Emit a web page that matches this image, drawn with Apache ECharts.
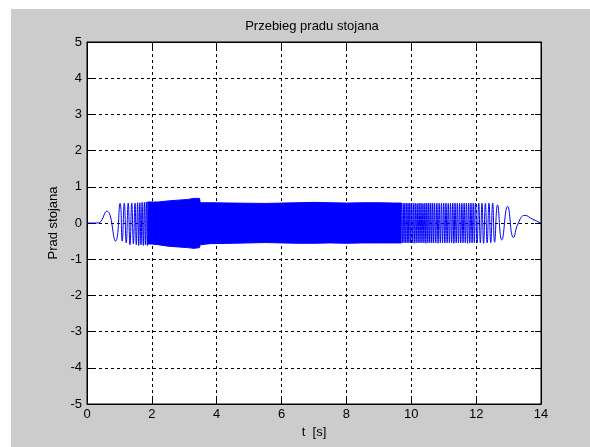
<!DOCTYPE html>
<html>
<head>
<meta charset="utf-8">
<script src="https://cdn.jsdelivr.net/npm/echarts@6/dist/echarts.min.js"></script>
<style>
  html, body { margin: 0; padding: 0; background: #fff; }
  #chart { position: absolute; left: 11px; top: 9px; width: 579px; height: 438px; background: #cccccc; }
</style>
</head>
<body>
<div id="chart"></div>
<script>
// axis ticks
var xTicks = [0, 2, 4, 6, 8, 10, 12, 14];
var yTicks = [-5, -4, -3, -2, -1, 0, 1, 2, 3, 4, 5];

// start of the run: slow swings, read peak by peak
var startT = [0, 0.2, 0.34, 0.61, 0.88, 1.02, 1.085, 1.15, 1.21, 1.27, 1.325, 1.38, 1.43, 1.48, 1.52, 1.56, 1.595, 1.63, 1.665, 1.70, 1.735, 1.77, 1.80, 1.83, 1.86, 1.89];
var startV = [0, 0, 0, 0.33, -0.5, 0.54, -0.5, 0.55, -0.55, 0.55, -0.6, 0.55, -0.58, 0.55, -0.6, 0.56, -0.62, 0.56, -0.6, 0.57, -0.62, 0.57, -0.6, 0.58, -0.62, 0.58];

// dense middle part: upper / lower envelope of the band
var bandT  = [1.86, 2.0, 2.2, 2.5, 2.8, 3.1, 3.3, 3.47, 3.49, 3.8, 4.5, 5.5, 6.0, 6.5, 7.0, 7.5, 8.0, 8.5, 9.0, 9.5, 9.7];
var bandHi = [0.58, 0.58, 0.58, 0.61, 0.63, 0.65, 0.68, 0.68, 0.56, 0.56, 0.55, 0.54, 0.55, 0.56, 0.57, 0.56, 0.55, 0.56, 0.56, 0.55, 0.55];
var bandLo = [-0.58, -0.58, -0.6, -0.64, -0.66, -0.68, -0.7, -0.68, -0.6, -0.57, -0.56, -0.54, -0.55, -0.56, -0.56, -0.55, -0.56, -0.55, -0.55, -0.55, -0.55];

// end of the run: swings get slower again
var endT = [9.70, 9.725, 9.75, 9.775, 9.80, 9.825, 9.85, 9.875, 9.90, 9.925, 9.95, 9.975,
            10.00, 10.03, 10.06, 10.09, 10.12, 10.15, 10.18, 10.21, 10.24, 10.27,
            10.30, 10.33, 10.36, 10.39, 10.42, 10.45, 10.48, 10.51, 10.54, 10.57,
            10.60, 10.63, 10.66, 10.69, 10.72, 10.755, 10.79, 10.825, 10.86, 10.895,
            10.93, 10.965, 11.00, 11.035, 11.07, 11.105, 11.14, 11.175, 11.21, 11.245,
            11.28, 11.315, 11.35, 11.385, 11.42, 11.455, 11.49, 11.525, 11.56, 11.595,
            11.63, 11.665, 11.70, 11.735, 11.77, 11.805, 11.84, 11.875, 11.91, 11.945,
            11.98, 12.03, 12.08, 12.13, 12.18, 12.23, 12.285, 12.34, 12.395, 12.45,
            12.51, 12.57, 12.66, 12.79, 12.97, 13.15, 13.30, 13.50, 13.75, 13.97, 14.0];
var endV = [0.55, -0.55, 0.55, -0.55, 0.55, -0.55, 0.55, -0.55, 0.55, -0.55, 0.55, -0.55,
            0.55, -0.55, 0.55, -0.56, 0.55, -0.55, 0.54, -0.55, 0.55, -0.55,
            0.55, -0.55, 0.54, -0.55, 0.55, -0.56, 0.55, -0.55, 0.55, -0.55,
            0.55, -0.55, 0.55, -0.55, 0.54, -0.55, 0.55, -0.56, 0.55, -0.55,
            0.55, -0.55, 0.55, -0.55, 0.55, -0.55, 0.54, -0.55, 0.55, -0.55,
            0.55, -0.56, 0.55, -0.55, 0.55, -0.55, 0.55, -0.55, 0.54, -0.55,
            0.55, -0.55, 0.55, -0.56, 0.55, -0.55, 0.55, -0.55, 0.55, -0.55,
            0.55, -0.55, 0.55, -0.55, 0.55, -0.56, 0.54, -0.55, 0.55, -0.54,
            0.55, -0.53, 0.5, -0.47, 0.46, -0.4, 0.0, 0.21, 0.1, 0.01, 0];

var font = 'Liberation Sans, Arial, sans-serif';
var blue = '#0000ff';

function pairs(ts, vs) {
    return ts.map(function (t, i) { return [t, vs[i]]; });
}

var chart = echarts.init(document.getElementById('chart'));

var option = {
    animation: false,
    backgroundColor: '#cccccc',
    title: {
        text: 'Przebieg pradu stojana',
        left: 301,
        top: 11,
        padding: 0,
        textAlign: 'center',
        textStyle: { fontFamily: font, fontSize: 13, fontWeight: 'normal', color: '#000' }
    },
    grid: {
        left: 76, top: 33, width: 454, height: 362,
        show: true, backgroundColor: '#fff', borderColor: '#000', borderWidth: 1
    },
    xAxis: [{
        type: 'value',
        min: xTicks[0], max: xTicks[xTicks.length - 1], interval: 2,
        position: 'bottom',
        name: 't  [s]', nameLocation: 'middle', nameGap: 22,
        nameTextStyle: { fontFamily: font, fontSize: 13, color: '#000' },
        axisLine: { onZero: false, lineStyle: { color: '#000', width: 1 } },
        axisTick: { inside: true, length: 6, lineStyle: { color: '#000' } },
        axisLabel: { fontFamily: font, fontSize: 13, color: '#000', margin: 4 },
        splitLine: { show: true, lineStyle: { color: '#000', type: [3, 3] } }
    }, {
        type: 'value',
        min: xTicks[0], max: xTicks[xTicks.length - 1], interval: 2,
        position: 'top',
        axisLine: { onZero: false, lineStyle: { color: '#000' } },
        axisTick: { inside: true, length: 6, lineStyle: { color: '#000' } },
        axisLabel: { show: false },
        splitLine: { show: false }
    }],
    yAxis: [{
        type: 'value',
        min: yTicks[0], max: yTicks[yTicks.length - 1], interval: 1,
        position: 'left',
        name: 'Prad stojana', nameLocation: 'middle', nameGap: 27,
        nameTextStyle: { fontFamily: font, fontSize: 13, color: '#000' },
        axisLine: { onZero: false, lineStyle: { color: '#000', width: 1 } },
        axisTick: { inside: true, length: 6, lineStyle: { color: '#000' } },
        axisLabel: { fontFamily: font, fontSize: 13, color: '#000', margin: 5 },
        splitLine: { show: true, lineStyle: { color: '#000', type: [3, 3] } }
    }, {
        type: 'value',
        min: yTicks[0], max: yTicks[yTicks.length - 1], interval: 1,
        position: 'right',
        axisLine: { onZero: false, lineStyle: { color: '#000' } },
        axisTick: { inside: true, length: 6, lineStyle: { color: '#000' } },
        axisLabel: { show: false },
        splitLine: { show: false }
    }],
    series: [{
        name: 'start', type: 'line', data: pairs(startT, startV),
        showSymbol: false, smooth: true,
        lineStyle: { color: blue, width: 1 }
    }, {
        // upper half of the dense band, filled down to 0
        name: 'bandHi', type: 'line', data: pairs(bandT, bandHi),
        showSymbol: false,
        lineStyle: { color: blue, width: 1 },
        areaStyle: { color: blue, opacity: 1 }
    }, {
        // lower half of the dense band, filled up to 0
        name: 'bandLo', type: 'line', data: pairs(bandT, bandLo),
        showSymbol: false,
        lineStyle: { color: blue, width: 1 },
        areaStyle: { color: blue, opacity: 1 }
    }, {
        name: 'end', type: 'line', data: pairs(endT, endV),
        showSymbol: false, smooth: true,
        lineStyle: { color: blue, width: 1 }
    }]
};

chart.setOption(option);
</script>
</body>
</html>
